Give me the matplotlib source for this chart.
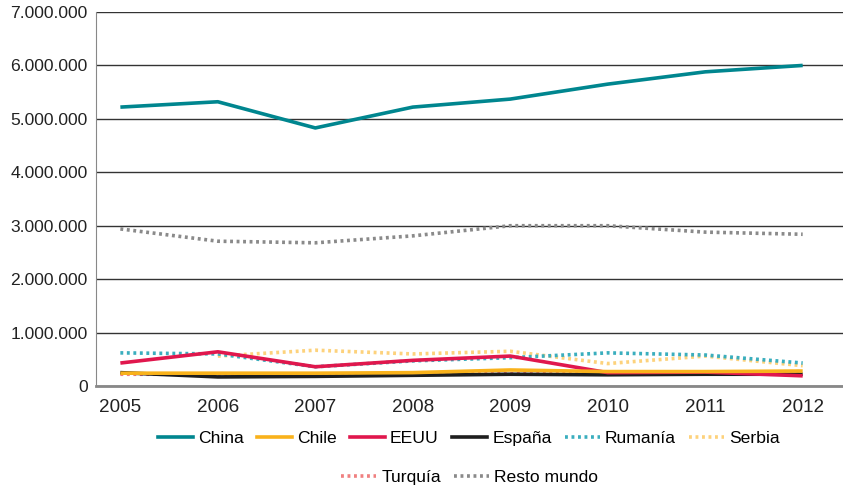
import numpy as np
import matplotlib
matplotlib.use("Agg")
import matplotlib.pyplot as plt
from matplotlib.lines import Line2D
from matplotlib.ticker import FuncFormatter

# --- dane ---
anios = [2005, 2006, 2007, 2008, 2009, 2010, 2011, 2012]

china = [5220000, 5320000, 4830000, 5220000, 5370000, 5650000, 5880000, 6000000]
chile = [240000, 240000, 240000, 250000, 300000, 270000, 270000, 280000]
eeuu = [430000, 640000, 360000, 480000, 560000, 250000, 260000, 190000]
espana = [250000, 170000, 180000, 200000, 220000, 210000, 220000, 220000]
rumania = [620000, 600000, 360000, 470000, 530000, 620000, 580000, 430000]
serbia = [np.nan, 560000, 670000, 600000, 650000, 420000, 560000, 380000]
turquia = [220000, 220000, 220000, 220000, 230000, 230000, 250000, 270000]
resto = [2940000, 2710000, 2680000, 2810000, 3000000, 3000000, 2880000, 2840000]

kropki = (0, (0.8, 1.0))
series = [
    ("China", china, "#00868f", "-"),
    ("Chile", chile, "#f9b21b", "-"),
    ("EEUU", eeuu, "#e0174d", "-"),
    ("España", espana, "#1e1e1e", "-"),
    ("Rumanía", rumania, "#3aaebe", kropki),
    ("Serbia", serbia, "#fdd27c", kropki),
    ("Turquía", turquia, "#f08080", kropki),
    ("Resto mundo", resto, "#8a8a8a", kropki),
]

plt.rcParams["font.family"] = ["Liberation Sans", "DejaVu Sans"]
plt.rcParams["font.size"] = 12.6

fig = plt.figure(figsize=(8.43, 4.88), dpi=100)
ax = fig.add_axes([96 / 843, 1 - 386 / 488, 1 - 96 / 843 + 0.01, (386 - 12) / 488])

# rysujemy od dolu zeby China byla na wierzchu
for nazwa, dane, kolor, styl in reversed(series):
    ax.plot(anios, dane, color=kolor, linestyle=styl, linewidth=2.6,
            solid_capstyle="butt", label=nazwa)

ax.set_xlim(2004.75, 2012.5)
ax.set_ylim(0, 7000000)
ax.set_xticks(anios)
ax.set_yticks(range(0, 7000001, 1000000))
ax.yaxis.set_major_formatter(FuncFormatter(lambda v, p: "{:,.0f}".format(v).replace(",", ".")))
ax.tick_params(length=0, pad=6, colors="#222222")
ax.tick_params(axis="x", pad=9, labelsize=13.6)
ax.grid(True, axis="y", color="#333333", linewidth=1)
ax.set_axisbelow(True)
for s in ["top", "right"]:
    ax.spines[s].set_visible(False)
ax.spines["left"].set_color("#888888")
ax.spines["bottom"].set_color("#888888")
ax.spines["bottom"].set_linewidth(2)

# --- legenda w dwoch rzedach ---
uchwyty = [Line2D([0], [0], color=k, linestyle=st, linewidth=2.6) for _, _, k, st in series]
nazwy = [n for n, _, _, _ in series]
kw = dict(frameon=False, handlelength=2.0, handletextpad=0.3, columnspacing=0.75, fontsize=12.6)
fig.legend(uchwyty[:6], nazwy[:6], loc="center", bbox_to_anchor=(0.556, 1 - 438 / 488), ncol=6, **kw)
fig.legend(uchwyty[6:], nazwy[6:], loc="center", bbox_to_anchor=(0.557, 1 - 477 / 488), ncol=2, **kw)

fig.savefig("out.png", dpi=100)
